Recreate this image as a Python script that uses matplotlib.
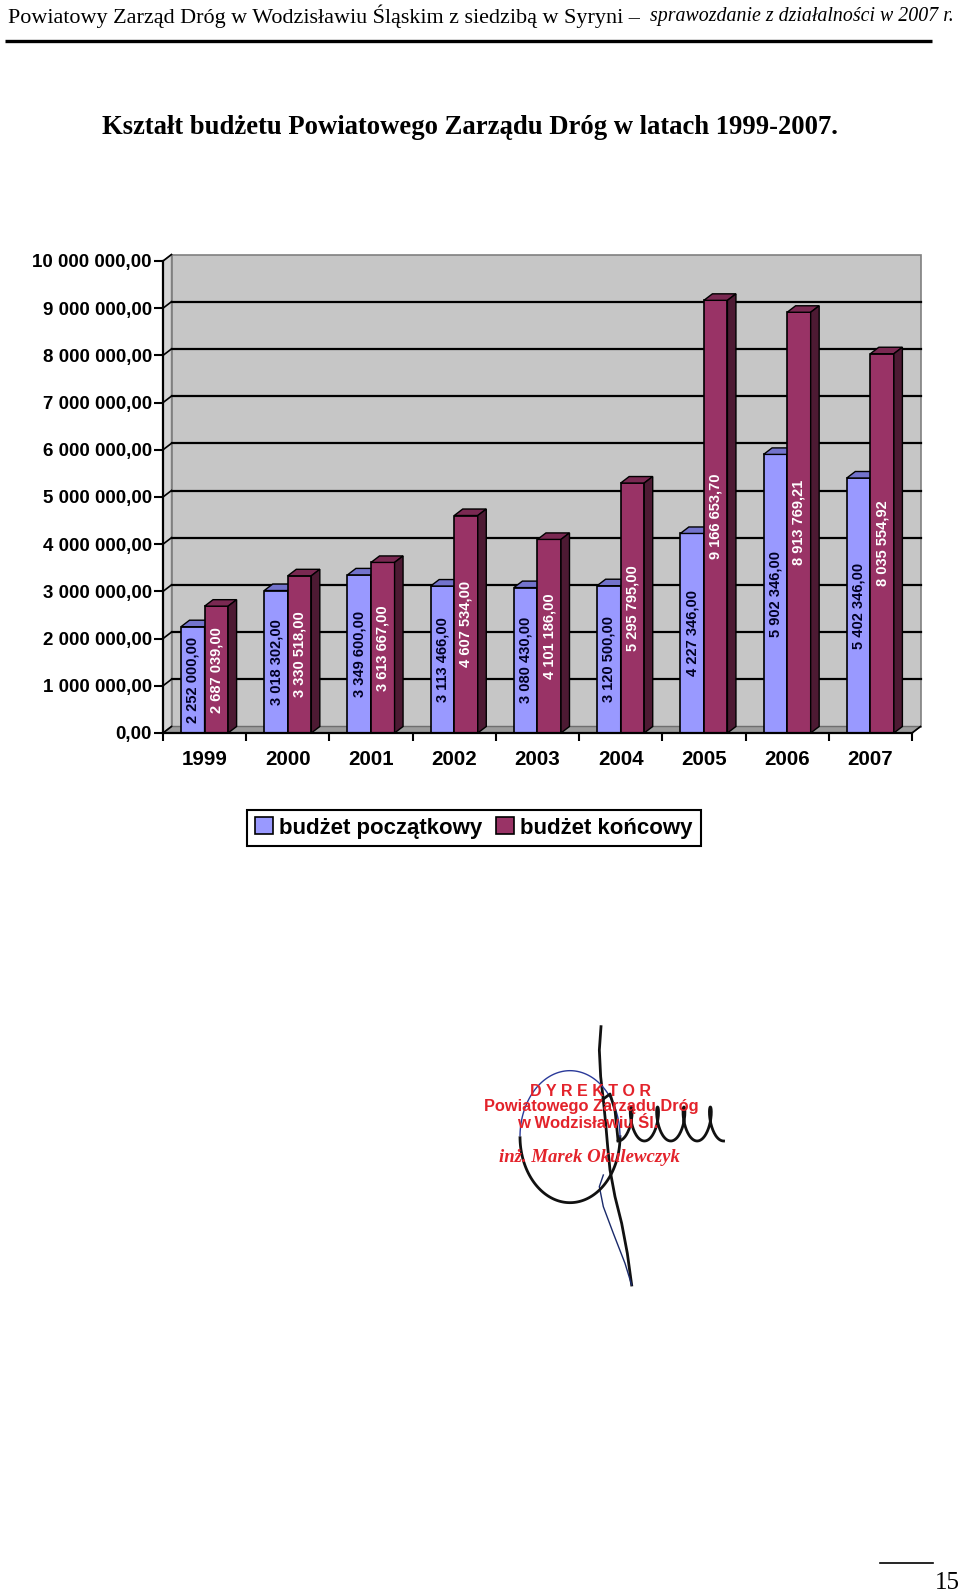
import matplotlib
matplotlib.use("Agg")
import matplotlib.pyplot as plt
import numpy as np
from matplotlib.patches import Polygon, Rectangle

# budget data
lata = ["1999", "2000", "2001", "2002", "2003", "2004", "2005", "2006", "2007"]
budzet_poczatkowy = [2252000.00, 3018302.00, 3349600.00, 3113466.00, 3080430.00,
                     3120500.00, 4227346.00, 5902346.00, 5402346.00]
budzet_koncowy = [2687039.00, 3330518.00, 3613667.00, 4607534.00, 4101186.00,
                  5295795.00, 9166653.70, 8913769.21, 8035554.92]
y_ticks = [0, 1e6, 2e6, 3e6, 4e6, 5e6, 6e6, 7e6, 8e6, 9e6, 1e7]

BLUE, BLUE_TOP = "#9999FF", "#7373CC"
RED, RED_TOP, RED_SIDE = "#993366", "#7A2952", "#4D1A33"
STAMP = "#E3232B"

W, H = 960, 1591


def fmt(v):
    # 2252000.0 -> "2 252 000,00"
    return f"{v:,.2f}".replace(",", " ").replace(".", ",")


fig = plt.figure(figsize=(W / 100, H / 100), dpi=100)

# page layer in pixel coordinates (header, title, stamp, page number)
page = fig.add_axes([0, 0, 1, 1])
page.set_xlim(0, W)
page.set_ylim(H, 0)
page.axis("off")

page.text(8, 16, "Powiatowy Zarząd Dróg w Wodzisławiu Śląskim z siedzibą w Syryni \u2013 ",
          ha="left", va="center", family="Liberation Serif", fontsize=15.9)
page.text(954, 16, "sprawozdanie z działalności w 2007 r.", ha="right", va="center",
          family="Liberation Serif", style="italic", fontsize=14.3)
page.plot([5, 932], [41, 41], color="black", lw=2.4, solid_capstyle="butt")

page.text(470, 128, "Kształt budżetu Powiatowego Zarządu Dróg w latach 1999-2007.",
          ha="center", va="center", family="Liberation Serif", weight="bold", fontsize=19.2)

# stamp + signature
page.text(590, 1092, "D Y R E K T O R", ha="center", va="center", color=STAMP,
          family="Liberation Sans", weight="bold", fontsize=11.5)
page.text(591, 1107, "Powiatowego Zarządu Dróg", ha="center", va="center", color=STAMP,
          family="Liberation Sans", weight="bold", fontsize=11.8)
page.text(588, 1124, "w Wodzisławiu Śl.", ha="center", va="center", color=STAMP,
          family="Liberation Sans", weight="bold", fontsize=12)
page.text(589, 1157, "inż. Marek Okulewczyk", ha="center", va="center", color=STAMP,
          family="Liberation Serif", weight="bold", style="italic", fontsize=13.5)

sig_a = np.array([(483, 110), (478, 180), (482, 260), (490, 330), (497, 400), (503, 470),
                  (510, 540), (525, 620), (545, 700), (562, 790), (575, 885)])
sig_b = np.array([(575, 885), (555, 820), (520, 730), (490, 650), (478, 590), (490, 555)])
for pts, col, lw in [(sig_a, "#111111", 2.0), (sig_b, "#1a2a6a", 1.0)]:
    page.plot(440 + pts[:, 0] / 3, 990 + pts[:, 1] / 3, color=col, lw=lw)
# oval loop
t = np.linspace(0, 2 * np.pi, 200)
ex = 440 + (390 + 150 * np.cos(t)) / 3
ey = 990 + (440 + 198 * np.sin(t)) / 3
page.plot(ex[t <= np.pi], ey[t <= np.pi], color="#111111", lw=2.0)
page.plot(ex[t >= np.pi], ey[t >= np.pi], color="#2a3a9a", lw=1.0)
# lead-in stroke and looping "uuu" tail
page.plot([602, 610, 615, 618], [1100, 1094, 1110, 1140], color="#111111", lw=2.0)
s = np.linspace(0, 4 * 2 * np.pi, 400)
page.plot(618 + 4.2 * s + 6 * np.sin(s), 1124 + 17 * np.cos(s), color="#111111", lw=2.0)

page.plot([880, 933], [1563, 1563], color="black", lw=1.2)
page.text(935, 1589, "15", ha="left", va="baseline", family="Liberation Serif", fontsize=18)

# chart: front plane is x 0..9 (categories), y 0..10M
ax = fig.add_axes([163 / W, 1 - 733 / H, 749 / W, 472 / H])
ax.set_xlim(0, 9)
ax.set_ylim(0, 1e7)
ax.patch.set_visible(False)

DX = 8.5 / 83.2            # depth offset in category units
DY = 6.5 * 1e7 / 472       # depth offset in value units

ax.add_patch(Rectangle((DX, DY), 9, 1e7, fc="#C6C6C6", ec="#808080", lw=1.2,
                       zorder=0, clip_on=False))
ax.add_patch(Polygon([(0, 0), (DX, DY), (DX, 1e7 + DY), (0, 1e7)], fc="#D4D4D4",
                     ec="#808080", lw=1.0, zorder=0.5, clip_on=False))
ax.add_patch(Polygon([(0, 0), (9, 0), (9 + DX, DY), (DX, DY)], fc="#9C9C9C",
                     ec="#6E6E6E", lw=1.0, zorder=1, clip_on=False))

for tk in y_ticks:
    if 0 < tk < 1e7:
        ax.plot([DX, 9 + DX], [tk + DY, tk + DY], color="black", lw=1.6, zorder=1.5,
                clip_on=False)
    ax.plot([0, DX], [tk, tk + DY], color="black", lw=1.2, zorder=1.5, clip_on=False)
ax.plot([9, 9 + DX], [0, DY], color="black", lw=1.2, zorder=1.5, clip_on=False)

# bars: front faces via ax.bar, 3d top and side added on top
x = np.arange(len(lata))
BW = 0.283
OFF = 18 / 83.2
series = [(budzet_poczatkowy, OFF, BLUE, BLUE_TOP, BLUE_TOP, "#000022", "budżet początkowy", 3),
          (budzet_koncowy, OFF + BW, RED, RED_TOP, RED_SIDE, "white", "budżet końcowy", 4)]
handles = []
for vals, off, fc, top, side, tc, lab, z in series:
    bars = ax.bar(x + off, vals, width=BW, align="edge", color=fc, edgecolor="black",
                  linewidth=1.2, zorder=z, label=lab)
    handles.append(bars)
    for b, v in zip(bars, vals):
        x0, w, h = b.get_x(), b.get_width(), b.get_height()
        ax.add_patch(Polygon([(x0, h), (x0 + w, h), (x0 + w + DX, h + DY), (x0 + DX, h + DY)],
                             fc=top, ec="black", lw=1.0, zorder=z, clip_on=False))
        ax.add_patch(Polygon([(x0 + w, 0), (x0 + w + DX, DY), (x0 + w + DX, h + DY), (x0 + w, h)],
                             fc=side, ec="black", lw=1.0, zorder=z, clip_on=False))
        ax.text(x0 + w / 2, h / 2, fmt(v), rotation=90, ha="center", va="center",
                color=tc, family="Liberation Sans", weight="bold", fontsize=10.5,
                zorder=z + 0.5)

for sp in ["top", "right"]:
    ax.spines[sp].set_visible(False)
for sp in ["left", "bottom"]:
    ax.spines[sp].set_linewidth(1.6)
    ax.spines[sp].set_zorder(6)

ax.set_yticks(y_ticks)
ax.set_yticklabels([fmt(v) for v in y_ticks], family="Liberation Sans", weight="bold",
                   fontsize=13.5)
ax.tick_params(axis="y", direction="out", length=6.5, width=1.5, pad=1.5)

ax.set_xticks(np.arange(len(lata) + 1))
ax.set_xticklabels([])
ax.tick_params(axis="x", which="major", direction="out", length=6, width=1.5)
ax.set_xticks(x + 0.5, minor=True)
ax.set_xticklabels(lata, minor=True, family="Liberation Sans", weight="bold", fontsize=14.8)
ax.tick_params(axis="x", which="minor", length=0, pad=12)

leg = ax.legend(handles=handles, loc="center", bbox_to_anchor=(474 / W, 1 - 828 / H),
                bbox_transform=fig.transFigure, ncol=2, frameon=True, fancybox=False,
                framealpha=1, edgecolor="black", handlelength=0.8, handleheight=0.8,
                handletextpad=0.3, columnspacing=0.6, borderpad=0.35, borderaxespad=0,
                prop={"family": "Liberation Sans", "weight": "bold", "size": 16})
leg.get_frame().set_linewidth(1.5)

fig.savefig("out.png", dpi=100)
